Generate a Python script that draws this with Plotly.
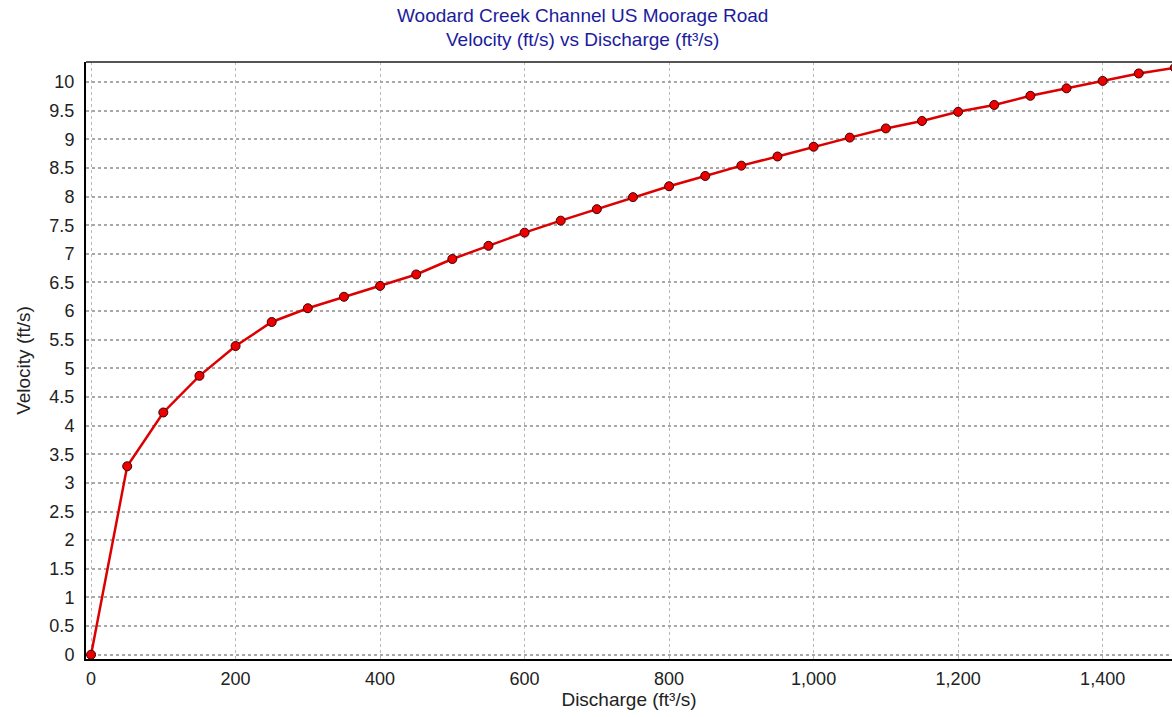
import plotly.graph_objects as go

discharge = [0, 50, 100, 150, 200, 250, 300, 350, 400, 450, 500, 550, 600, 650, 700, 750,
             800, 850, 900, 950, 1000, 1050, 1100, 1150, 1200, 1250, 1300, 1350, 1400, 1450, 1500]
velocity = [0.0, 3.29, 4.23, 4.87, 5.39, 5.81, 6.05, 6.25, 6.44, 6.64, 6.91, 7.14, 7.37, 7.58,
            7.78, 7.99, 8.18, 8.36, 8.54, 8.70, 8.87, 9.03, 9.19, 9.32, 9.48, 9.60, 9.76, 9.89,
            10.02, 10.15, 10.25]

title_lines = ["Woodard Creek Channel US Moorage Road", "Velocity (ft/s) vs Discharge (ft³/s)"]
x_title = "Discharge (ft³/s)"
y_title = "Velocity (ft/s)"
y_ticks = [i * 0.5 for i in range(21)]
y_tick_text = [("%g" % v) for v in y_ticks]
x_ticks = [0, 200, 400, 600, 800, 1000, 1200, 1400]

fig = go.Figure()
fig.add_trace(go.Scatter(
    x=discharge, y=velocity, mode="lines+markers",
    line=dict(color="#dd0000", width=2.5),
    marker=dict(color="#ee0000", size=9, line=dict(color="#3a0000", width=1)),
    showlegend=False,
))

font = "Liberation Sans, Arial, sans-serif"
fig.update_layout(
    width=1172, height=717,
    margin=dict(l=86, r=0, t=62, b=58),
    paper_bgcolor="white", plot_bgcolor="white",
    font=dict(family=font, size=18, color="#222222"),
)
# title lines as annotations (pixel-accurate placement)
for line, ypix in zip(title_lines, [16, 40]):
    fig.add_annotation(text=line, xref="paper", yref="paper",
                       x=(582 - 86) / 1086, y=1 + (62 - ypix) / 597,
                       xanchor="center", yanchor="middle", showarrow=False,
                       font=dict(family=font, size=19, color="#1c1c9c"))

fig.update_xaxes(
    range=[-7, 1496], tickvals=x_ticks, tickformat=",d",
    showgrid=True, gridcolor="#b8b8b8", griddash="dot", gridwidth=1,
    showline=True, linecolor="#000000", linewidth=2, mirror=False,
    ticks="", ticklabelstandoff=2,
    zeroline=False,
    title=dict(text=x_title, standoff=2, font=dict(size=19, color="#222222")),
    tickfont=dict(size=18, color="#222222"),
)
fig.update_yaxes(
    range=[-0.075, 10.35], tickvals=y_ticks, ticktext=y_tick_text,
    showgrid=True, gridcolor="#a8a8a8", griddash="dot", gridwidth=2,
    showline=True, linecolor="#000000", linewidth=2, mirror=False,
    ticks="", ticklabelstandoff=6,
    zeroline=False,
    title=dict(text=y_title, standoff=14, font=dict(size=19, color="#222222")),
    tickfont=dict(size=18, color="#222222"),
)
# top border line
fig.add_shape(type="line", xref="paper", yref="paper", x0=0, x1=1, y0=1, y1=1,
              line=dict(color="#555555", width=2))

fig.write_html("out.html", config={"displayModeBar": False},
               post_script="document.body.style.margin='0';document.body.style.overflow='hidden';")
